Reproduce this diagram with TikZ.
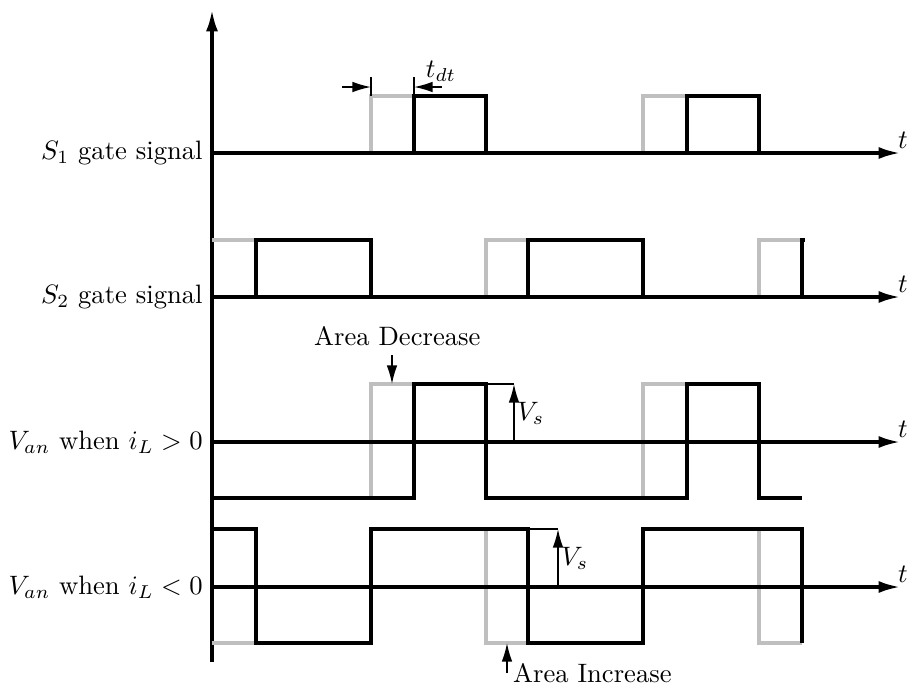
\documentclass[tikz,border=0pt]{standalone}
\usetikzlibrary{arrows.meta}
\begin{document}
\begin{tikzpicture}[x=0.0132cm, y=-0.0132cm,
    sig/.style={line width=1.2pt, black},
    ideal/.style={line width=1.2pt, black!25},
    axis/.style={line width=1.2pt, -{Latex[length=8pt,width=4.5pt]}},
    dimline/.style={line width=0.6pt},
    dimarrow/.style={line width=0.6pt, -{Latex[length=7pt,width=4pt]}}]
    \useasboundingbox (0,0) rectangle (909,684);

    % vertical axis
    \coordinate (Vbot) at (212,662);
    \coordinate (Vtop) at (212,10);
    \draw[axis] (Vbot) -- (Vtop);

    % ideal (gray) edges, drawn first
    \draw[ideal] (371,153) -- (371,96) -- (414,96);
    \draw[ideal] (643,153) -- (643,96) -- (687,96);
    \draw[ideal] (212,240) -- (256,240);
    \draw[ideal] (486,297) -- (486,240) -- (528,240);
    \draw[ideal] (759,297) -- (759,240) -- (802,240);
    \draw[ideal] (371,498) -- (371,384) -- (414,384);
    \draw[ideal] (643,498) -- (643,384) -- (687,384);
    \draw[ideal] (212,643) -- (256,643);
    \draw[ideal] (486,529) -- (486,643) -- (528,643);
    \draw[ideal] (759,529) -- (759,643) -- (802,643);

    % time axes
    \foreach \y/\name in {153/Sa, 297/Sb, 442/Vp, 587/Vn} {
        \coordinate (\name0) at (212,\y);
        \coordinate (\name1) at (900,\y);
        \draw[axis] (\name0) -- (\name1);
        \node[inner sep=0pt] (t\name) at (903,\y-13) {$t$};
    }
    \node[left] (labSa) at (Sa0) {$S_1$ gate signal};
    \node[left] (labSb) at (Sb0) {$S_2$ gate signal};
    \node[left] (labVp) at (Vp0) {$V_{an}$ when $i_L>0$};
    \node[left] (labVn) at (Vn0) {$V_{an}$ when $i_L<0$};

    % actual signals
    \draw[sig] (414,153) -- (414,96) -- (486,96) -- (486,153);
    \draw[sig] (687,153) -- (687,96) -- (759,96) -- (759,153);
    \draw[sig] (256,297) -- (256,240) -- (371,240) -- (371,297);
    \draw[sig] (528,297) -- (528,240) -- (643,240) -- (643,297);
    \draw[sig] (802,297) -- (802,240) -- (805,240);
    \draw[sig] (212,498) -- (414,498) -- (414,384) -- (486,384) -- (486,498)
        -- (687,498) -- (687,384) -- (759,384) -- (759,498) -- (802,498);
    \draw[sig] (212,529) -- (256,529) -- (256,643) -- (371,643) -- (371,529)
        -- (528,529) -- (528,643) -- (643,643) -- (643,529) -- (802,529) -- (802,643);

    % dead time
    \draw[dimline] (371,96) -- (371,77);
    \draw[dimline] (414,96) -- (414,77);
    \coordinate (dtA) at (342,87);
    \coordinate (dtB) at (371,87);
    \coordinate (dtC) at (442,87);
    \coordinate (dtD) at (414,87);
    \draw[dimarrow] (dtA) -- (dtB);
    \draw[dimarrow] (dtC) -- (dtD);
    \node (tdt) at (441,71) {$t_{dt}$};

    % area annotations
    \coordinate (decA) at (392,355);
    \coordinate (decB) at (392,384);
    \draw[dimarrow] (decA) -- (decB) node[pos=0, above, xshift=2pt] (dec) {Area Decrease};
    \coordinate (incA) at (507,673);
    \coordinate (incB) at (507,643);
    \draw[dimarrow] (incA) -- (incB) node[pos=0, right, inner sep=2pt] (inc) {Area Increase};

    % V_s
    \draw[dimline] (486,384) -- (514,384);
    \coordinate (vsA) at (514,442);
    \coordinate (vsB) at (514,384);
    \draw[dimarrow] (vsA) -- (vsB) node[midway, right, inner sep=1pt] (vsp) {$V_s$};
    \draw[dimline] (528,529) -- (558,529);
    \coordinate (vsC) at (558,587);
    \coordinate (vsD) at (558,529);
    \draw[dimarrow] (vsC) -- (vsD) node[midway, right, inner sep=1pt] (vsn) {$V_s$};
\end{tikzpicture}
\end{document}
